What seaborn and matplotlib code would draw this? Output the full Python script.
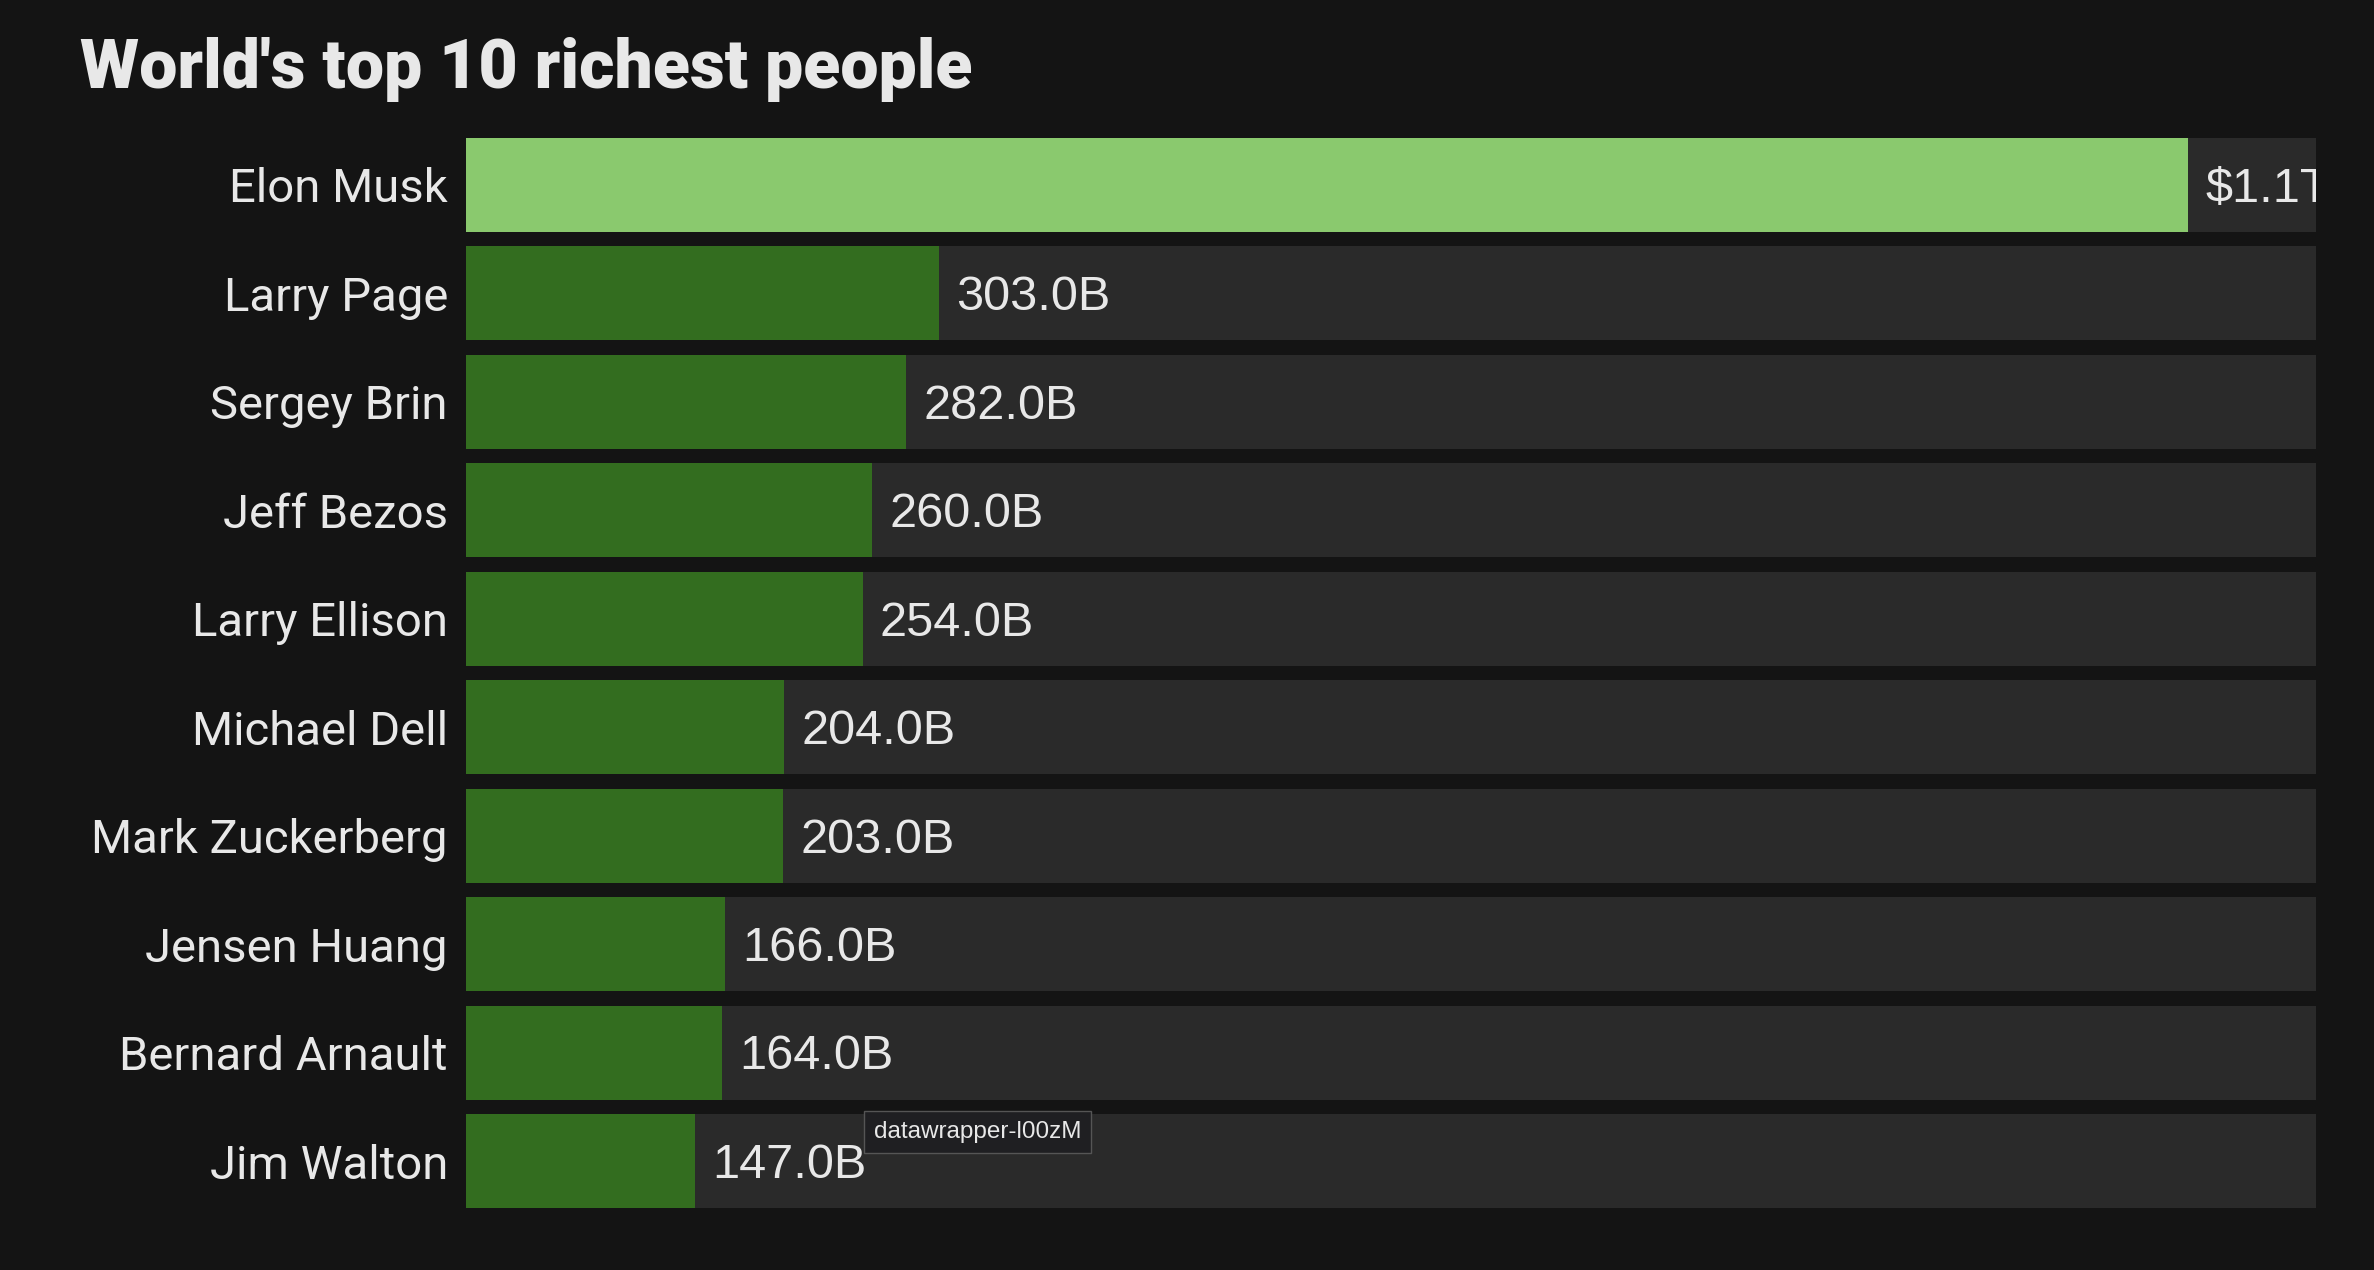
import matplotlib
matplotlib.use("Agg")
import matplotlib.pyplot as plt
import seaborn as sns
import pandas as pd

# data (billions of USD)
names = ["Elon Musk", "Larry Page", "Sergey Brin", "Jeff Bezos", "Larry Ellison",
         "Michael Dell", "Mark Zuckerberg", "Jensen Huang", "Bernard Arnault", "Jim Walton"]
net_worth = [1103, 303, 282, 260, 254, 204, 203, 166, 164, 147]
value_labels = ["$1.1T", "303.0B", "282.0B", "260.0B", "254.0B",
                "204.0B", "203.0B", "166.0B", "164.0B", "147.0B"]
scale_max = 1185

BG = "#141414"
TRACK = "#2a2a2a"
HIGHLIGHT = "#8ac96e"
BAR = "#336d1f"
TEXT = "#e8e8e8"

sns.set_theme(style="white")
plt.rcParams["font.family"] = ["Roboto", "DejaVu Sans"]

df = pd.DataFrame({"name": names, "value": net_worth, "track": [scale_max] * len(names)})
palette = {n: (HIGHLIGHT if i == 0 else BAR) for i, n in enumerate(names)}

fig = plt.figure(figsize=(23.74, 12.70), dpi=100, facecolor=BG)
ax = fig.add_axes([466 / 2374, 62 / 1270, 1850 / 2374, 1070 / 1270])
ax.set_facecolor(BG)

# grey track behind each bar
sns.barplot(data=df, x="track", y="name", color=TRACK, width=0.866,
            saturation=1, linewidth=0, ax=ax)
sns.barplot(data=df, x="value", y="name", hue="name", palette=palette, width=0.866,
            saturation=1, linewidth=0, legend=False, ax=ax)

for i, (v, lab) in enumerate(zip(net_worth, value_labels)):
    ax.text(v + 11, i + 0.04, lab, va="center", ha="left", fontsize=35, color=TEXT,
            family=["Liberation Sans", "DejaVu Sans"], clip_on=True)

ax.set_xlim(0, scale_max)
ax.set_ylim(9.433, -0.433)
ax.set_xlabel("")
ax.set_ylabel("")
ax.set_xticks([])
ax.tick_params(axis="y", length=0, pad=13, labelsize=34, labelcolor=TEXT)
for s in ax.spines.values():
    s.set_visible(False)

fig.text(80 / 2374, 1 - 88 / 1270, "World's top 10 richest people", fontsize=49,
         fontweight="heavy", color=TEXT, va="baseline", ha="left")

# hover tooltip captured in the screenshot
fig.text(874 / 2374, 1 - 1132 / 1270, "datawrapper-l00zM", fontsize=17.5, color=TEXT,
         va="center", ha="left", family=["Liberation Sans", "DejaVu Sans"],
         bbox=dict(boxstyle="square,pad=0.4", facecolor="#1f1f22", edgecolor="#555555", lw=1))

fig.savefig("out.png", dpi=100, facecolor=BG)
